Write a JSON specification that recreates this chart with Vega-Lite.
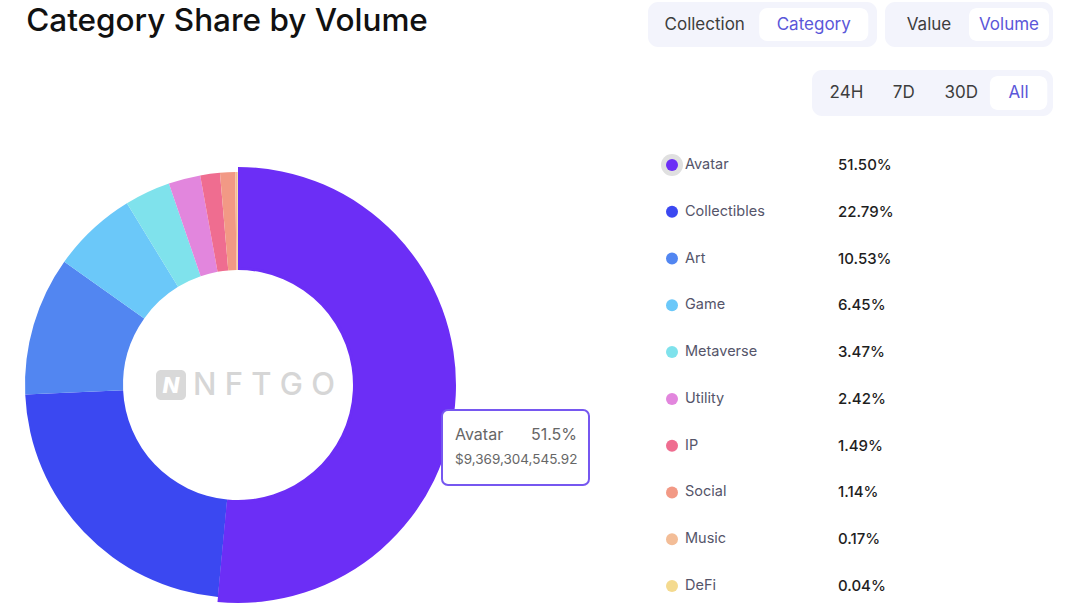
{
  "$schema": "https://vega.github.io/schema/vega-lite/v6.json",
  "padding": {"left": 0, "top": 2, "right": 0, "bottom": 0},
  "background": "#ffffff",
  "config": {"view": {"stroke": null}, "font": "Inter", "text": {"font": "Inter"}},
  "datasets": {
    "categories": [
      {"category": "Avatar", "share": 0.515},
      {"category": "Collectibles", "share": 0.2279},
      {"category": "Art", "share": 0.1053},
      {"category": "Game", "share": 0.0645},
      {"category": "Metaverse", "share": 0.0347},
      {"category": "Utility", "share": 0.0242},
      {"category": "IP", "share": 0.0149},
      {"category": "Social", "share": 0.0114},
      {"category": "Music", "share": 0.0017},
      {"category": "DeFi", "share": 0.0004}
    ]
  },
  "spacing": 58,
  "hconcat": [
    {
      "spacing": 123,
      "vconcat": [
        {
          "width": 454,
          "height": 40,
          "data": {"values": [{"heading": "Category Share by Volume"}]},
          "mark": {"type": "text", "align": "center", "baseline": "middle", "fontSize": 31.5, "fontWeight": 500, "color": "#111111"},
          "encoding": {"text": {"field": "heading"}}
        },
        {
          "width": 476,
          "height": 440,
          "data": {"name": "categories"},
          "layer": [
            {
              "mark": {"type": "arc", "outerRadius": 213, "innerRadius": 115},
              "encoding": {
                "theta": {"field": "share", "type": "quantitative", "stack": true},
                "order": {"field": "share", "type": "quantitative", "sort": "descending"},
                "color": {"field": "category", "type": "nominal", "legend": null,
                  "scale": {"domain": ["Avatar", "Collectibles", "Art", "Game", "Metaverse", "Utility", "IP", "Social", "Music", "DeFi"],
                            "range": ["#6C2EF6", "#3B48F1", "#5286F1", "#6BC8F9", "#7FE2EC", "#E286DD", "#EF6D90", "#F29985", "#F3BD97", "#F4DA8F"]}}
              }
            },
            {
              "mark": {"type": "arc", "outerRadius": 218, "innerRadius": 118},
              "encoding": {
                "theta": {"field": "share", "type": "quantitative", "stack": true},
                "order": {"field": "share", "type": "quantitative", "sort": "descending"},
                "color": {"field": "category", "type": "nominal", "legend": null,
                  "scale": {"domain": ["Avatar", "Collectibles", "Art", "Game", "Metaverse", "Utility", "IP", "Social", "Music", "DeFi"],
                            "range": ["#6C2EF6", "#3B48F1", "#5286F1", "#6BC8F9", "#7FE2EC", "#E286DD", "#EF6D90", "#F29985", "#F3BD97", "#F4DA8F"]}},
                "opacity": {"condition": {"test": "datum.category === 'Avatar'", "value": 1}, "value": 0}
              }
            },
            {
              "data": {"values": [{"logo": "N"}]},
              "mark": {"type": "rect", "cornerRadius": 5, "fill": "#d9d9d9"},
              "encoding": {"x": {"value": 156}, "x2": {"value": 186}, "y": {"value": 205}, "y2": {"value": 235}}
            },
            {
              "data": {"values": [{"logo": "N"}]},
              "mark": {"type": "text", "align": "center", "baseline": "middle", "fontSize": 22, "fontWeight": 800, "fontStyle": "italic", "color": "#ffffff"},
              "encoding": {"x": {"value": 171}, "y": {"value": 221}, "text": {"field": "logo"}}
            },
            {
              "data": {"values": [{"brand": "N F T G O"}]},
              "mark": {"type": "text", "align": "left", "baseline": "middle", "fontSize": 31, "fontWeight": 500, "color": "#d6d6d6"},
              "encoding": {"x": {"value": 193}, "y": {"value": 221}, "text": {"field": "brand"}}
            },
            {
              "data": {"values": [{"name": "Avatar", "pct": "51.5%", "amount": "$9,369,304,545.92"}]},
              "layer": [
                {
                  "mark": {"type": "rect", "cornerRadius": 6, "fill": "#ffffff", "stroke": "#7657F0", "strokeWidth": 2},
                  "encoding": {"x": {"value": 442}, "x2": {"value": 589}, "y": {"value": 245}, "y2": {"value": 320}}
                },
                {
                  "mark": {"type": "text", "align": "left", "baseline": "middle", "fontSize": 16, "color": "#666666"},
                  "encoding": {"x": {"value": 455}, "y": {"value": 270}, "text": {"field": "name"}}
                },
                {
                  "mark": {"type": "text", "align": "right", "baseline": "middle", "fontSize": 16, "color": "#666666"},
                  "encoding": {"x": {"value": 577}, "y": {"value": 270}, "text": {"field": "pct"}}
                },
                {
                  "mark": {"type": "text", "align": "left", "baseline": "middle", "fontSize": 13.5, "color": "#666666"},
                  "encoding": {"x": {"value": 455}, "y": {"value": 295}, "text": {"field": "amount"}}
                }
              ]
            }
          ]
        }
      ]
    },
    {
      "spacing": 23,
      "vconcat": [
        {
          "spacing": 8,
          "hconcat": [
            {
              "width": 229, "height": 45,
              "view": {"fill": "#F3F4FC", "cornerRadius": 10, "stroke": null},
              "data": {"values": [{"label": "Collection", "selected": false}, {"label": "Category", "selected": true}]},
              "encoding": {"x": {"field": "label", "type": "nominal", "axis": null, "scale": {"domain": ["Collection", "Category"], "paddingInner": 0, "paddingOuter": 0.05, "align": 0.2}}},
              "layer": [
                {"transform": [{"filter": "datum.selected"}], "mark": {"type": "bar", "fill": "#ffffff", "cornerRadius": 8}, "encoding": {"y": {"value": 6}, "y2": {"value": 39}}},
                {"mark": {"type": "text", "fontSize": 17, "baseline": "middle"}, "encoding": {"text": {"field": "label"}, "color": {"condition": {"test": "datum.selected", "value": "#5B57D9"}, "value": "#3d3d3d"}}}
              ]
            },
            {
              "width": 168, "height": 45,
              "view": {"fill": "#F3F4FC", "cornerRadius": 10, "stroke": null},
              "data": {"values": [{"label": "Value", "selected": false}, {"label": "Volume", "selected": true}]},
              "encoding": {"x": {"field": "label", "type": "nominal", "axis": null, "scale": {"domain": ["Value", "Volume"], "paddingInner": 0, "paddingOuter": 0.05}}},
              "layer": [
                {"transform": [{"filter": "datum.selected"}], "mark": {"type": "bar", "fill": "#ffffff", "cornerRadius": 8}, "encoding": {"y": {"value": 6}, "y2": {"value": 39}}},
                {"mark": {"type": "text", "fontSize": 17, "baseline": "middle"}, "encoding": {"text": {"field": "label"}, "color": {"condition": {"test": "datum.selected", "value": "#5B57D9"}, "value": "#3d3d3d"}}}
              ]
            }
          ]
        },
        {
          "spacing": 8,
          "hconcat": [
            {
              "width": 156, "height": 46,
              "data": {"values": [{"blank": ""}]},
              "mark": "text",
              "encoding": {"text": {"field": "blank"}}
            },
            {
              "width": 241, "height": 46,
              "view": {"fill": "#F3F4FC", "cornerRadius": 10, "stroke": null},
              "data": {"values": [{"label": "24H", "selected": false}, {"label": "7D", "selected": false}, {"label": "30D", "selected": false}, {"label": "All", "selected": true}]},
              "encoding": {"x": {"field": "label", "type": "nominal", "axis": null, "scale": {"domain": ["24H", "7D", "30D", "All"], "paddingInner": 0, "paddingOuter": 0.1}}},
              "layer": [
                {"transform": [{"filter": "datum.selected"}], "mark": {"type": "bar", "fill": "#ffffff", "cornerRadius": 8}, "encoding": {"y": {"value": 6}, "y2": {"value": 40}}},
                {"mark": {"type": "text", "fontSize": 17, "baseline": "middle"}, "encoding": {"text": {"field": "label"}, "color": {"condition": {"test": "datum.selected", "value": "#5B57D9"}, "value": "#3d3d3d"}}}
              ]
            }
          ]
        },
        {
          "width": 405, "height": 466,
          "data": {"name": "categories"},
          "encoding": {"y": {"field": "category", "type": "nominal", "axis": null,
            "scale": {"type": "point", "padding": 0, "domain": ["Avatar", "Collectibles", "Art", "Game", "Metaverse", "Utility", "IP", "Social", "Music", "DeFi"], "range": [26, 447]}}},
          "layer": [
            {"transform": [{"filter": "datum.category === 'Avatar'"}],
             "mark": {"type": "point", "filled": true, "shape": "circle", "size": 484, "color": "#e0e0e0", "opacity": 1},
             "encoding": {"x": {"value": 24}}},
            {"mark": {"type": "point", "filled": true, "shape": "circle", "size": 144, "opacity": 1},
             "encoding": {"x": {"value": 24},
               "color": {"field": "category", "type": "nominal", "legend": null,
                 "scale": {"domain": ["Avatar", "Collectibles", "Art", "Game", "Metaverse", "Utility", "IP", "Social", "Music", "DeFi"],
                           "range": ["#6C2EF6", "#3B48F1", "#5286F1", "#6BC8F9", "#7FE2EC", "#E286DD", "#EF6D90", "#F29985", "#F3BD97", "#F4DA8F"]}}}},
            {"mark": {"type": "text", "align": "left", "baseline": "middle", "fontSize": 14.5, "color": "#55556a"},
             "encoding": {"x": {"value": 37}, "text": {"field": "category"}}},
            {"mark": {"type": "text", "align": "left", "baseline": "middle", "fontSize": 15, "fontWeight": 500, "color": "#1e1e1e"},
             "encoding": {"x": {"value": 190}, "text": {"field": "share", "type": "quantitative", "format": ".2%"}}}
          ]
        }
      ]
    }
  ]
}
